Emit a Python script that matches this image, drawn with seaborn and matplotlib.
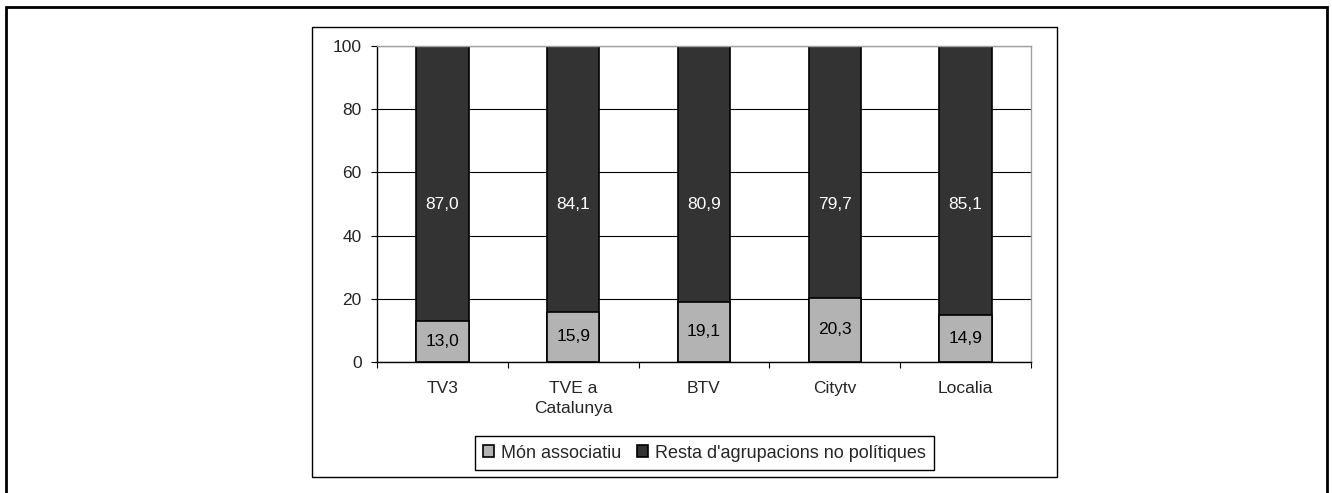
import numpy as np
import pandas as pd
import matplotlib.pyplot as plt
import seaborn as sns
from matplotlib.patches import Rectangle

# Dades (percentatges per canal)
canals = ["TV3", "TVE a\nCatalunya", "BTV", "Citytv", "Localia"]
mon_associatiu = [13.0, 15.9, 19.1, 20.3, 14.9]
resta_agrupacions = [87.0, 84.1, 80.9, 79.7, 85.1]
y_ticks = [0, 20, 40, 60, 80, 100]

df = pd.DataFrame({"canal": canals, "mon": mon_associatiu, "resta": resta_agrupacions})
df["total"] = df["mon"] + df["resta"]

sns.set_style("white")
plt.rcParams["font.family"] = ["Liberation Sans", "DejaVu Sans"]
plt.rcParams["font.size"] = 12.5

fig = plt.figure(figsize=(13.32, 4.93), dpi=100)
ax = fig.add_axes([0.2830, 0.2657, 0.4910, 0.6410])

# stacked bars: full bar dark, lower part light on top
sns.barplot(data=df, x="canal", y="total", color="#333333", width=0.4,
            edgecolor="black", linewidth=1.2, saturation=1, errorbar=None,
            label="Resta d'agrupacions no polítiques", ax=ax)
sns.barplot(data=df, x="canal", y="mon", color="#b3b3b3", width=0.4,
            edgecolor="black", linewidth=1.2, saturation=1, errorbar=None,
            label="Món associatiu", ax=ax)

fmt = lambda v: f"{v:.1f}".replace(".", ",")
ax.bar_label(ax.containers[0], labels=[fmt(v) for v in resta_agrupacions],
             label_type="center", color="white", fontsize=12.5)
ax.bar_label(ax.containers[1], labels=[fmt(v) for v in mon_associatiu],
             label_type="center", color="black", fontsize=12.5)

ax.set_ylim(0, 100)
ax.set_yticks(y_ticks)
ax.set_xlabel("")
ax.set_ylabel("")
ax.yaxis.grid(True, color="black", linewidth=0.8)
ax.set_axisbelow(True)

ax.tick_params(axis="y", left=True, direction="out", length=4, width=0.8,
               color="black", pad=7, labelsize=12.5)
ax.set_xticks(np.arange(-0.5, len(canals), 1), minor=True)
ax.tick_params(axis="x", which="major", bottom=True, length=0, pad=14, labelsize=12.5)
ax.tick_params(axis="x", which="minor", bottom=True, direction="out", length=4,
               width=0.8, color="black")
for lbl in ax.get_xticklabels():
    lbl.set_linespacing(1.35)

for side in ["left", "bottom"]:
    ax.spines[side].set_color("black")
    ax.spines[side].set_linewidth(1)
for side in ["top", "right"]:
    ax.spines[side].set_color("#a0a0a0")
    ax.spines[side].set_linewidth(1)

handles, labels = ax.get_legend_handles_labels()
leg = ax.legend(handles[::-1], labels[::-1], loc="center",
                bbox_to_anchor=(0.529, 0.0811), bbox_transform=fig.transFigure,
                ncol=2, frameon=True, fancybox=False, edgecolor="black",
                framealpha=1, handlelength=0.6, handleheight=0.6,
                handletextpad=0.4, columnspacing=0.9, borderpad=0.45, fontsize=13)
leg.get_frame().set_linewidth(1)

# chart box and outer frame
fig.patches.append(Rectangle((0.2342, 0.0325), 0.5593, 0.9127, transform=fig.transFigure,
                             fill=False, edgecolor="black", linewidth=1))
fig.patches.append(Rectangle((0.0045, -0.05), 0.9917, 1.0358, transform=fig.transFigure,
                             fill=False, edgecolor="black", linewidth=2))

fig.savefig("out.png", dpi=100)
